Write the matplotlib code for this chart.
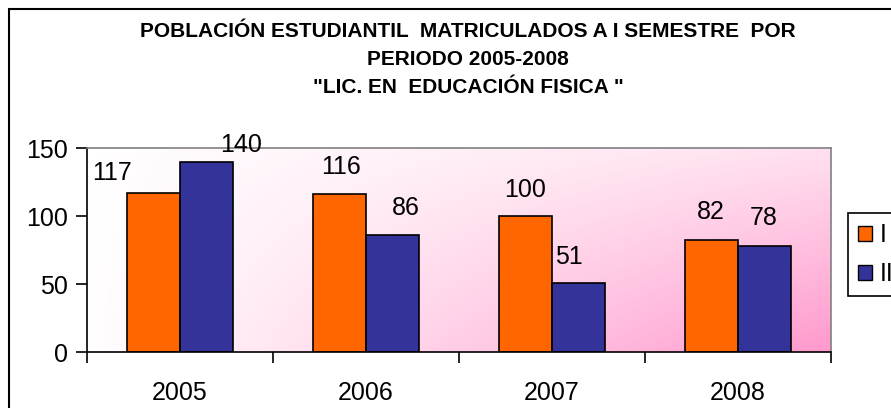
import matplotlib
matplotlib.use("Agg")
import matplotlib.pyplot as plt
import matplotlib.patches as mpatches
from matplotlib.colors import LinearSegmentedColormap
import numpy as np

years = ["2005", "2006", "2007", "2008"]
sem_1 = [117, 116, 100, 82]
sem_2 = [140, 86, 51, 78]
series_names = ["I", "II"]
title = ('POBLACIÓN ESTUDIANTIL  MATRICULADOS A I SEMESTRE  POR\n'
         'PERIODO 2005-2008\n'
         '"LIC. EN  EDUCACIÓN FISICA "')

# label offsets (pixels) from the top centre of each bar, as placed in the original
off_1 = [(-41, 20), (2, 27), (0, 26), (-1, 28)]
off_2 = [(35, 17), (13, 27), (-10, 26), (-1, 28)]

plt.rcParams["font.family"] = ["Liberation Sans", "DejaVu Sans"]

W, H = 891, 408
fig = plt.figure(figsize=(W / 100, H / 100), dpi=100)
ax = fig.add_axes([87 / W, 1 - 352 / H, (831 - 87) / W, (352 - 148) / H])

# plot area gradient: white top-left to pink bottom-right
gx, gy = np.meshgrid(np.linspace(0, 1, 300), np.linspace(0, 1, 150))
t = gx * (0.3 + 0.7 * gy)
cmap = LinearSegmentedColormap.from_list("bg", ["#FFFFFF", "#FF99CC"])
ax.imshow(t, cmap=cmap, vmin=0, vmax=1, extent=[-0.5, 3.5, 0, 150],
          aspect="auto", zorder=0, interpolation="bilinear")

x = np.arange(len(years))
w = 0.285
b1 = ax.bar(x - w / 2, sem_1, w, color="#FF6600", edgecolor="black",
            linewidth=1.2, label=series_names[0], zorder=2)
b2 = ax.bar(x + w / 2, sem_2, w, color="#333399", edgecolor="black",
            linewidth=1.2, label=series_names[1], zorder=2)

for bars, vals, offs in [(b1, sem_1, off_1), (b2, sem_2, off_2)]:
    for r, v, (dx, dy) in zip(bars, vals, offs):
        ax.annotate(str(v), (r.get_x() + r.get_width() / 2, v),
                    xytext=(dx, dy), textcoords="offset pixels",
                    ha="center", va="center", fontsize=18, zorder=3)

ax.set_xlim(-0.5, 3.5)
ax.set_ylim(0, 150)
ax.set_yticks([0, 50, 100, 150])
ax.set_xticks(np.arange(-0.5, 4, 1))
ax.set_xticklabels([])
ax.set_xticks(x, minor=True)
ax.set_xticklabels(years, minor=True)
ax.tick_params(axis="x", which="minor", length=0, labelsize=18, pad=21)
ax.tick_params(axis="x", which="major", direction="out", length=8, width=1.2)
ax.tick_params(axis="y", direction="out", length=8, width=1.2, labelsize=18, pad=6)

for s in ["left", "bottom"]:
    ax.spines[s].set_color("black")
    ax.spines[s].set_linewidth(1.2)
for s in ["top", "right"]:
    ax.spines[s].set_color("#808080")
    ax.spines[s].set_linewidth(1.2)

handles = [mpatches.Patch(facecolor="#FF6600", edgecolor="black", label=series_names[0]),
           mpatches.Patch(facecolor="#333399", edgecolor="black", label=series_names[1])]
leg = fig.legend(handles=handles, loc="upper left",
                 bbox_to_anchor=(848 / W, 1 - 213 / H), borderaxespad=0,
                 fontsize=18, handlelength=0.56, handleheight=0.56,
                 handletextpad=0.32, labelspacing=0.6, borderpad=0.4,
                 fancybox=False, edgecolor="black", framealpha=1)
leg.get_frame().set_linewidth(1.2)

fig.text(468 / W, 1 - 22 / H, title, ha="center", va="top",
         fontsize=15, fontweight="bold", linespacing=1.6,
         family=["Liberation Sans Narrow", "Liberation Sans", "DejaVu Sans"])

# outer chart frame (cut by the image edge on the right and bottom)
fig.patches.append(mpatches.Rectangle((9 / W, -0.1), 1.2, 1.1 - 9 / H,
                                      transform=fig.transFigure, fill=False,
                                      edgecolor="black", linewidth=1.5))

fig.savefig("out.png", dpi=100)
